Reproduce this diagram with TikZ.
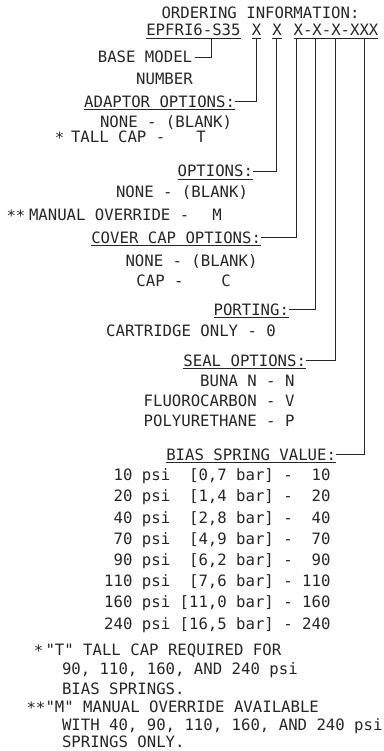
\documentclass[tikz,border=0pt]{standalone}
\usepackage{fontspec}
\setmonofont{DejaVu Sans Mono}
\begin{document}
\begin{tikzpicture}[x=1pt,y=-1pt,
  every node/.style={inner sep=0pt, outer sep=0pt, anchor=base,
    font=\ttfamily\fontsize{15.66pt}{18pt}\selectfont, text=black!85},
  link/.style={line width=0.8pt, draw=black!85},
  uline/.style={line width=0.8pt, draw=black!85},
  hdr/.style={anchor=base east}]
\useasboundingbox (0,0) rectangle (383,751);

% title and model code
\node (title) at (260.5,18.5) {ORDERING INFORMATION:};
\node[anchor=base west] (model) at (146.3,36) {EPFRI6-S35};
\node (xa) at (256.5,36) {X};
\node (xb) at (277,36) {X};
\node (xc) at (336,36) {X-X-X-XXX};
\foreach \n in {model,xa,xb,xc}
  \draw[uline] ([yshift=-2.3pt]\n.base west) -- ([yshift=-2.3pt]\n.base east);

\coordinate (t0) at (211,38.3);
\coordinate (t1) at (256,38.3);
\coordinate (t2) at (276,38.3);
\coordinate (t3) at (296,38.3);
\coordinate (t4) at (315,38.3);
\coordinate (t5) at (335,38.3);
\coordinate (t6) at (364,38.3);

% base model
\node (base) at (145,62.7) {BASE MODEL};
\node (num) at (164.5,85) {NUMBER};

% adaptor options
\node[hdr] (h1) at (235,107.5) {ADAPTOR OPTIONS:};
\node (a1) at (166,128) {NONE - (BLANK)};
\node (a2s) at (59.5,144) {*};
\node[anchor=base west] (a2) at (71,143) {TALL CAP -};
\node (a2v) at (201,143) {T};

% options
\node[hdr] (h2) at (253,177) {OPTIONS:};
\node (o1) at (182,197) {NONE - (BLANK)};
\node (o2s) at (16,222) {**};
\node[anchor=base west] (o2) at (29,221) {MANUAL OVERRIDE -};
\node (o2v) at (217,221) {M};

% cover cap options
\node[hdr] (h3) at (261,243) {COVER CAP OPTIONS:};
\node (c1) at (191.5,266) {NONE - (BLANK)};
\node (c2) at (160,286.5) {CAP -};
\node (c2v) at (226,286.5) {C};

% porting
\node[hdr] (h4) at (289,315) {PORTING:};
\node (p1) at (191,336) {CARTRIDGE ONLY - 0};

% seal options
\node[hdr] (h5) at (306,366) {SEAL OPTIONS:};
\node[anchor=base east] (s1) at (294.5,386.5) {BUNA N - N};
\node[anchor=base east] (s2) at (294.5,406.7) {FLUOROCARBON - V};
\node[anchor=base east] (s3) at (294.5,426.7) {POLYURETHANE - P};

% bias spring value
\node[hdr] (h6) at (336,460) {BIAS SPRING VALUE:};
\node[anchor=base east] (b1) at (330.5,480.7) {10~psi~~[0,7~bar]~-~~10};
\node[anchor=base east] (b2) at (330.5,501.9) {20~psi~~[1,4~bar]~-~~20};
\node[anchor=base east] (b3) at (330.5,523.1) {40~psi~~[2,8~bar]~-~~40};
\node[anchor=base east] (b4) at (330.5,544.3) {70~psi~~[4,9~bar]~-~~70};
\node[anchor=base east] (b5) at (330.5,565.5) {90~psi~~[6,2~bar]~-~~90};
\node[anchor=base east] (b6) at (330.5,586.7) {110~psi~~[7,6~bar]~-~110};
\node[anchor=base east] (b7) at (330.5,607.9) {160~psi~[11,0~bar]~-~160};
\node[anchor=base east] (b8) at (330.5,629.1) {240~psi~[16,5~bar]~-~240};

\foreach \n in {h1,h2,h3,h4,h5,h6}
  \draw[uline] ([yshift=-2pt]\n.base west) -- ([yshift=-2pt]\n.base east);

% footnotes
\node (f1s) at (38.5,656.5) {*};
\node[anchor=base west] (f1) at (45.5,655) {"T" TALL CAP REQUIRED FOR};
\node[anchor=base west] (f2) at (62,674.5) {90, 110, 160, AND 240 psi};
\node[anchor=base west] (f3) at (62,694) {BIAS SPRINGS.};
\node (f4s) at (36,713.5) {**};
\node[anchor=base west] (f4) at (45.5,712.5) {"M" MANUAL OVERRIDE AVAILABLE};
\node[anchor=base west] (f5) at (62,730.5) {WITH 40, 90, 110, 160, AND 240 psi};
\node[anchor=base west] (f6) at (62,747) {SPRINGS ONLY.};

% connectors
\draw[link] (t0) |- ([xshift=3pt]base.east);
\draw[link] (t1) |- (h1.east);
\draw[link] (t2) |- (h2.east);
\draw[link] (t3) |- (h3.east);
\draw[link] (t4) |- (h4.east);
\draw[link] (t5) |- (h5.east);
\draw[link] (t6) |- (h6.east);
\end{tikzpicture}
\end{document}
